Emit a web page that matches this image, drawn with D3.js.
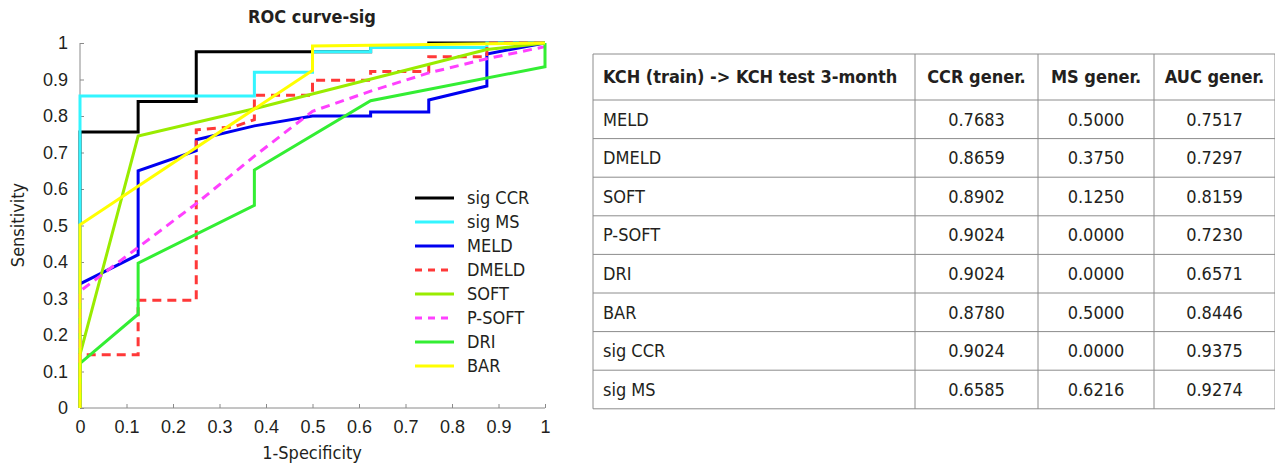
<!DOCTYPE html>
<html>
<head>
<meta charset="utf-8">
<script src="https://cdn.jsdelivr.net/npm/d3@7"></script>
<style>
  body { margin: 0; background: #fff; }
  svg { display: block; font-family: 'DejaVu Sans Condensed', 'DejaVu Sans', sans-serif; }
</style>
</head>
<body>
<svg id="chart" width="1275" height="465"></svg>
<script>
// ROC curves, [1-specificity, sensitivity]
const sigCCR = [[0,0],[0,0.756],[0.125,0.756],[0.125,0.84],[0.25,0.84],[0.25,0.976],[0.625,0.976],[0.625,0.988],[0.75,0.988],[0.75,1],[1,1]];
const sigMS = [[0,0],[0,0.855],[0.375,0.855],[0.375,0.92],[0.5,0.92],[0.5,0.976],[0.625,0.976],[0.625,0.988],[0.875,0.988],[0.875,1],[1,1]];
const meld = [[0,0.34],[0.125,0.42],[0.125,0.65],[0.25,0.705],[0.25,0.735],[0.375,0.773],[0.5,0.8],[0.625,0.8],[0.625,0.811],[0.75,0.811],[0.75,0.844],[0.875,0.882],[0.875,0.97],[1,1]];
const dmeld = [[0,0],[0,0.146],[0.125,0.146],[0.125,0.295],[0.25,0.295],[0.25,0.762],[0.33,0.77],[0.375,0.79],[0.375,0.857],[0.5,0.857],[0.5,0.898],[0.625,0.898],[0.625,0.922],[0.75,0.922],[0.75,0.962],[0.875,0.962],[0.875,1],[1,1]];
const soft = [[0,0],[0,0.146],[0.125,0.745],[0.375,0.82],[0.875,0.982],[1,1]];
const psoft = [[0,0],[0,0.32],[0.125,0.44],[0.25,0.56],[0.375,0.69],[0.5,0.813],[0.625,0.868],[0.75,0.918],[0.875,0.957],[1,0.99]];
const dri = [[0,0],[0,0.122],[0.125,0.257],[0.125,0.397],[0.375,0.555],[0.375,0.652],[0.625,0.842],[1,0.935],[1,1]];
const bar = [[0,0],[0,0.502],[0.5,0.925],[0.5,0.992],[1,1]];

const seriesNames = ['sig CCR', 'sig MS', 'MELD', 'DMELD', 'SOFT', 'P-SOFT', 'DRI', 'BAR'];
const seriesData = [sigCCR, sigMS, meld, dmeld, soft, psoft, dri, bar];
const seriesColors = ['#000000', '#33f5ff', '#0000f0', '#ff3838', '#99ec00', '#ff40ff', '#33ee33', '#ffff00'];
const seriesDashed = [false, false, false, true, false, true, false, false];

// Table
const tableHeader = ['KCH (train) -> KCH test 3-month', 'CCR gener.', 'MS gener.', 'AUC gener.'];
const tableRows = ['MELD', 'DMELD', 'SOFT', 'P-SOFT', 'DRI', 'BAR', 'sig CCR', 'sig MS'];
const ccrGener = ['0.7683', '0.8659', '0.8902', '0.9024', '0.9024', '0.8780', '0.9024', '0.6585'];
const msGener = ['0.5000', '0.3750', '0.1250', '0.0000', '0.0000', '0.5000', '0.0000', '0.6216'];
const aucGener = ['0.7517', '0.7297', '0.8159', '0.7230', '0.6571', '0.8446', '0.9375', '0.9274'];

const svg = d3.select('#chart');
const textColor = '#231f20';
const fontSize = '18px';

const x = d3.scaleLinear().domain([0, 1]).range([80, 545]);
const y = d3.scaleLinear().domain([0, 1]).range([408, 43]);
const fmt = d => String(+d.toFixed(1));

// Axes (ticks point inward)
const xAxis = svg.append('g')
  .attr('transform', `translate(0,${y(0)})`)
  .call(d3.axisBottom(x).ticks(10).tickSize(-4).tickPadding(12).tickFormat(fmt));
const yAxis = svg.append('g')
  .attr('transform', `translate(${x(0)},0)`)
  .call(d3.axisLeft(y).ticks(10).tickSize(-4).tickPadding(12).tickFormat(fmt));
[xAxis, yAxis].forEach(a => {
  a.selectAll('path, line').attr('stroke', '#8a8a8a');
  a.select('.domain').attr('d', a === xAxis ? `M${x(0)},0H${x(1)}` : `M0,${y(0)}V${y(1)}`);
  a.selectAll('text').attr('fill', textColor).style('font-size', fontSize);
});

// Curves
const line = d3.line().x(d => x(d[0])).y(d => y(d[1]));
seriesData.forEach((data, i) => {
  svg.append('path')
    .datum(data)
    .attr('d', line)
    .attr('fill', 'none')
    .attr('stroke', seriesColors[i])
    .attr('stroke-width', 3)
    .attr('stroke-dasharray', seriesDashed[i] ? '9 6' : null);
});

// Legend
const legend = svg.append('g').attr('transform', 'translate(415,198)');
seriesNames.forEach((name, i) => {
  const g = legend.append('g').attr('transform', `translate(0,${i * 24})`);
  g.append('line')
    .attr('x1', 0).attr('x2', 39)
    .attr('stroke', seriesColors[i])
    .attr('stroke-width', 3)
    .attr('stroke-dasharray', seriesDashed[i] ? '7 6' : null);
  g.append('text')
    .attr('x', 52).attr('dy', '0.35em')
    .style('font-size', fontSize)
    .attr('fill', textColor)
    .text(name);
});

// Titles
svg.append('text')
  .attr('x', 312).attr('y', 23)
  .attr('text-anchor', 'middle')
  .style('font-size', fontSize).style('font-weight', 'bold')
  .attr('fill', textColor)
  .text('ROC curve-sig');
svg.append('text')
  .attr('x', 312).attr('y', 459)
  .attr('text-anchor', 'middle')
  .style('font-size', fontSize)
  .attr('fill', textColor)
  .text('1-Specificity');
svg.append('text')
  .attr('transform', 'translate(24,225) rotate(-90)')
  .attr('text-anchor', 'middle')
  .style('font-size', fontSize)
  .attr('fill', textColor)
  .text('Sensitivity');

// Table
const colEdges = [593, 915, 1038, 1154, 1275];
const rowEdges = [54].concat(d3.range(9).map(i => 100 + i * 38.6));
const table = svg.append('g');
const borderColor = '#8c8c8c';
rowEdges.forEach(ry => {
  table.append('line')
    .attr('x1', colEdges[0]).attr('x2', colEdges[4])
    .attr('y1', ry).attr('y2', ry)
    .attr('stroke', borderColor);
});
colEdges.forEach(cx => {
  table.append('line')
    .attr('x1', cx).attr('x2', cx)
    .attr('y1', rowEdges[0]).attr('y2', rowEdges[rowEdges.length - 1])
    .attr('stroke', borderColor);
});
tableHeader.forEach((h, j) => {
  table.append('text')
    .attr('x', j === 0 ? colEdges[0] + 10 : (colEdges[j] + colEdges[j + 1]) / 2)
    .attr('y', (rowEdges[0] + rowEdges[1]) / 2)
    .attr('dy', '0.35em')
    .attr('text-anchor', j === 0 ? 'start' : 'middle')
    .style('font-size', fontSize).style('font-weight', 'bold')
    .attr('fill', textColor)
    .text(h);
});
tableRows.forEach((name, i) => {
  const cells = [name, ccrGener[i], msGener[i], aucGener[i]];
  const cy = (rowEdges[i + 1] + rowEdges[i + 2]) / 2;
  cells.forEach((c, j) => {
    table.append('text')
      .attr('x', j === 0 ? colEdges[0] + 10 : (colEdges[j] + colEdges[j + 1]) / 2)
      .attr('y', cy)
      .attr('dy', '0.35em')
      .attr('text-anchor', j === 0 ? 'start' : 'middle')
      .style('font-size', fontSize)
      .attr('fill', textColor)
      .text(c);
  });
});
</script>
</body>
</html>
